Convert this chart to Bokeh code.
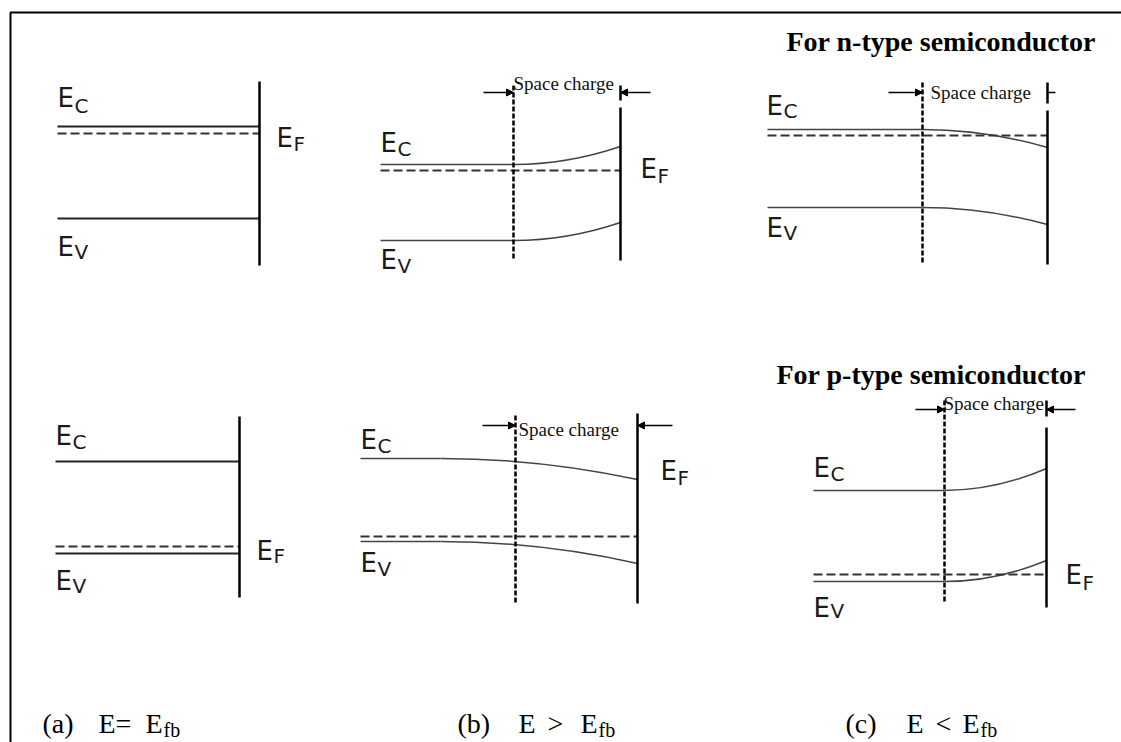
from bokeh.plotting import figure
from bokeh.models import Range1d, Arrow, NormalHead, ColumnDataSource
from bokeh.core.properties import value
from bokeh.embed import file_html
from bokeh.resources import INLINE

# ---------------- data (page pixel units) ----------------
frame_x = [10, 10, 1121]
frame_y = [760, 12, 12]

# flat band edges in panels (a)
flat_x0 = [57, 57, 55, 55]
flat_x1 = [259, 259, 239, 239]
flat_y = [126, 218, 461, 553]

# bent band edges in panels (b) and (c)
band_x0 = [380, 380, 360, 360, 767, 767, 813, 813]
band_xb = [513, 513, 440, 440, 922, 922, 944, 944]
band_x1 = [620, 620, 637, 637, 1047, 1047, 1046, 1046]
band_y0 = [164, 240, 458, 541, 129, 207, 490, 581]
band_y1 = [146, 222, 479, 563, 147, 224, 468, 560]

# Fermi level (dashed)
fermi_x0 = [57, 55, 380, 360, 767, 813]
fermi_x1 = [259, 239, 620, 637, 1047, 1046]
fermi_y = [133, 546, 170, 536, 135, 574]

# surface (solid vertical)
surf_x = [259, 239, 620, 637, 1047, 1046, 620, 1047, 1046]
surf_y0 = [81, 416, 107, 413, 110, 427, 85, 82, 400]
surf_y1 = [265, 597, 260, 603, 264, 607, 100, 103, 416]

# space-charge edge (dashed vertical)
edge_x = [513, 515, 922, 944]
edge_y0 = [85, 415, 82, 400]
edge_y1 = [258, 602, 263, 603]

# arrows
arrow_x0 = [483, 650, 482, 672, 888, 915, 1075]
arrow_x1 = [513, 620, 515, 637, 922, 944, 1046]
arrow_y = [92, 92, 425, 425, 92, 409, 409]
tick_x = [1047, 1055]
tick_y = [92, 92]

sc_text = ["Space charge"] * 4
sc_x = [513, 518, 930, 943]
sc_y = [83, 429, 92, 403]

# energy labels (centre of the capital letter)
lab_x = [57, 276, 57, 55, 256, 55, 380, 640, 380, 360, 660, 360, 766, 766, 813, 1065, 813]
lab_y = [97, 137, 246, 435, 550, 580, 142, 168, 259, 439, 470, 562, 105, 227, 467, 574, 607]
sub_t = ["C", "F", "V", "C", "F", "V", "C", "F", "V", "C", "F", "V", "C", "V", "C", "F", "V"]
sub_y = [105, 143, 251, 441, 555, 585, 148, 175, 265, 445, 477, 568, 110, 232, 473, 582, 610]

title_t = ["For n-type semiconductor", "For p-type semiconductor"]
title_x = [786, 776]
title_y = [41, 374]

cap_t = ["(a)", "E=", "E", "(b)", "E", ">", "E", "(c)", "E", "<", "E"]
cap_x = [42, 98, 145, 457, 518, 547, 580, 845, 906, 935, 962]
cap_y = [723] * 11
capsub_t = ["fb", "fb", "fb"]
capsub_x = [163, 598, 980]
capsub_y = [729, 729, 729]

# ---------------- figure ----------------
W, H = 1121, 742
p = figure(width=W, height=H, x_range=Range1d(0, W), y_range=Range1d(H, 0),
           output_backend="svg", toolbar_location=None, min_border=0,
           x_axis_location=None, y_axis_location=None)
p.grid.visible = False
p.outline_line_color = None
p.background_fill_color = "white"
p.border_fill_color = "white"

p.line(frame_x, frame_y, line_color="black", line_width=2)

p.segment(x0=flat_x0, y0=flat_y, x1=flat_x1, y1=flat_y, line_color="#222222", line_width=2)

p.segment(x0=band_x0, y0=band_y0, x1=band_xb, y1=band_y0, line_color="#444444", line_width=1.5)
ctrl_x = [b + 0.5 * (e - b) for b, e in zip(band_xb, band_x1)]
p.quadratic(x0=band_xb, y0=band_y0, x1=band_x1, y1=band_y1, cx=ctrl_x, cy=band_y0,
            line_color="#444444", line_width=1.5)

p.segment(x0=fermi_x0, y0=fermi_y, x1=fermi_x1, y1=fermi_y, line_color="#333333",
          line_width=2, line_dash="9 4")

p.segment(x0=surf_x, y0=surf_y0, x1=surf_x, y1=surf_y1, line_color="black", line_width=2.5)
p.segment(x0=edge_x, y0=edge_y0, x1=edge_x, y1=edge_y1, line_color="black",
          line_width=2.5, line_dash="5 2")

asrc = ColumnDataSource(dict(x0=arrow_x0, x1=arrow_x1, y=arrow_y))
p.add_layout(Arrow(end=NormalHead(size=7, fill_color="black", line_color="black"),
                   x_start="x0", y_start="y", x_end="x1", y_end="y", source=asrc,
                   line_color="black", line_width=1.5))
p.line(tick_x, tick_y, line_color="black", line_width=1.5)

p.text(x=sc_x, y=sc_y, text=sc_text, text_font=value("Liberation Serif"),
       text_font_size="19px", text_baseline="middle", text_align="left", text_color="#111111")

p.text(x=lab_x, y=lab_y, text=["E"] * len(lab_x), text_font=value("DejaVu Sans"),
       text_font_size="26px", text_baseline="middle", text_align="left", text_color="#1a1a1a")
sub_x = [x + 17 for x in lab_x]
p.text(x=sub_x, y=sub_y, text=sub_t, text_font=value("DejaVu Sans"),
       text_font_size="20px", text_baseline="middle", text_align="left", text_color="#1a1a1a")

p.text(x=title_x, y=title_y, text=title_t, text_font=value("Liberation Serif"),
       text_font_size="28px", text_font_style="bold", text_baseline="middle",
       text_align="left", text_color="black")

p.text(x=cap_x, y=cap_y, text=cap_t, text_font=value("Liberation Serif"),
       text_font_size="28px", text_baseline="middle", text_align="left", text_color="black")
p.text(x=capsub_x, y=capsub_y, text=capsub_t, text_font=value("Liberation Serif"),
       text_font_size="20px", text_baseline="middle", text_align="left", text_color="black")

open("out.html", "w").write(file_html(p, INLINE))
